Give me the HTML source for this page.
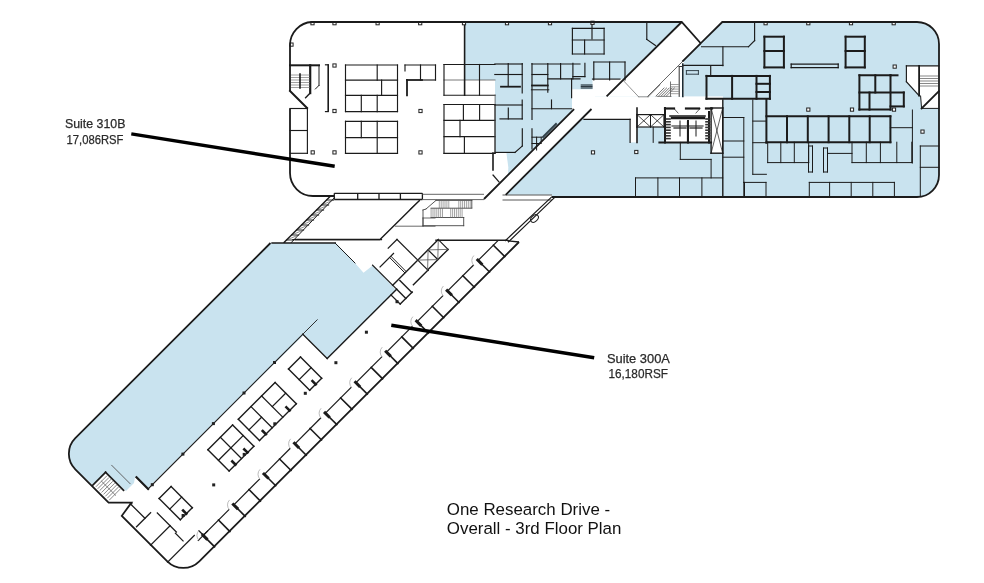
<!DOCTYPE html>
<html><head><meta charset="utf-8"><style>
html,body{margin:0;padding:0;background:#fff;}
svg{display:block;font-family:"Liberation Sans",sans-serif;}
</style></head><body>
<svg width="984" height="583" viewBox="0 0 984 583">
<rect width="984" height="583" fill="#fff"/>
<path fill="#c9e3ef" d="M465,22 H681.7 L700.7,43.3 L722.3,22 H917 A22,22 0 0 1 939,44 V175 A22,22 0 0 1 917,197 H552 V194.8 H495 V80 H465 Z"/>
<path fill="#ffffff" d="M681.7,22 L700.7,43.3 L647.6,96.4 L606.6,96.4 Z"/>
<path fill="#ffffff" d="M592.5,79.1 H624 L606.7,96.4 H592.5 Z"/>
<path fill="#ffffff" d="M684,60 V96.6 H647 Z"/>
<rect fill="#ffffff" x="572" y="89.3" width="23" height="21.3"/>
<rect fill="#ffffff" x="580" y="96.4" width="143" height="11.8"/>
<rect fill="#ffffff" x="584" y="108" width="46" height="11.3"/>
<path fill="#ffffff" d="M582.5,100 L600.5,100 L503.5,197 L485.5,197 Z"/>
<rect fill="#ffffff" x="630" y="108" width="7.5" height="34.4"/>
<rect fill="#ffffff" x="637" y="108" width="28" height="19"/>
<rect fill="#ffffff" x="664" y="108" width="48" height="34.4"/>
<rect fill="#ffffff" x="711" y="108" width="11.7" height="45.2"/>
<path fill="#ffffff" d="M492,152.4 H506.4 L508.3,167.4 L507,197 H492 Z"/>
<path fill="#ffffff" d="M906.4,65.8 H938.8 V108.4 H921.6 L920.6,96 L906.4,81.7 Z"/>
<path fill="#c9e3ef" d="M270.5,243 H336 L355,263 L363.5,272.7 L372.7,265.6 L396,290 L327.7,358.4 L303.6,335 L147,489 L135,477 L134,483 L126,491 L105.6,472.3 L92.8,485.1 L75.3,469.3 A22,22 0 0 1 75.3,438.2 Z"/>
<g stroke-linecap="square">
<line x1="290.0" y1="65.3" x2="319.0" y2="65.3" stroke="#1b1b1b" stroke-width="2.0"/>
<line x1="319.0" y1="65.3" x2="319.0" y2="85.4" stroke="#1b1b1b" stroke-width="1.0"/>
<line x1="319.0" y1="85.4" x2="315.4" y2="89.0" stroke="#1b1b1b" stroke-width="1.0"/>
<line x1="310.2" y1="65.3" x2="310.2" y2="93.1" stroke="#1b1b1b" stroke-width="2.2"/>
<line x1="310.2" y1="93.1" x2="305.6" y2="97.7" stroke="#1b1b1b" stroke-width="1.4"/>
<line x1="290.0" y1="91.0" x2="307.1" y2="108.0" stroke="#1b1b1b" stroke-width="2.0"/>
<line x1="291.5" y1="75.0" x2="309.0" y2="75.0" stroke="#888" stroke-width="0.8"/>
<line x1="291.5" y1="77.5" x2="309.0" y2="77.5" stroke="#888" stroke-width="0.8"/>
<line x1="291.5" y1="80.0" x2="309.0" y2="80.0" stroke="#888" stroke-width="0.8"/>
<line x1="291.5" y1="82.5" x2="309.0" y2="82.5" stroke="#888" stroke-width="0.8"/>
<line x1="291.5" y1="85.0" x2="309.0" y2="85.0" stroke="#888" stroke-width="0.8"/>
<line x1="291.5" y1="87.5" x2="309.0" y2="87.5" stroke="#888" stroke-width="0.8"/>
<line x1="300.0" y1="74.0" x2="300.0" y2="88.0" stroke="#1b1b1b" stroke-width="1.6"/>
<line x1="325.5" y1="64.8" x2="328.2" y2="64.8" stroke="#1b1b1b" stroke-width="1.2"/>
<line x1="325.5" y1="111.6" x2="328.2" y2="111.6" stroke="#1b1b1b" stroke-width="1.2"/>
<line x1="290.0" y1="108.5" x2="307.1" y2="108.5" stroke="#1b1b1b" stroke-width="1.15"/>
<line x1="307.4" y1="108.1" x2="307.4" y2="153.3" stroke="#1b1b1b" stroke-width="1.15"/>
<line x1="290.0" y1="130.5" x2="307.4" y2="130.5" stroke="#1b1b1b" stroke-width="1.15"/>
<line x1="290.0" y1="153.3" x2="307.4" y2="153.3" stroke="#1b1b1b" stroke-width="1.15"/>
<line x1="328.2" y1="65.0" x2="328.2" y2="111.0" stroke="#1b1b1b" stroke-width="1.6"/>
<line x1="345.5" y1="65.0" x2="397.5" y2="65.0" stroke="#1b1b1b" stroke-width="1.15"/>
<line x1="345.5" y1="111.6" x2="397.5" y2="111.6" stroke="#1b1b1b" stroke-width="1.15"/>
<line x1="345.5" y1="65.0" x2="345.5" y2="111.6" stroke="#1b1b1b" stroke-width="1.15"/>
<line x1="397.5" y1="65.0" x2="397.5" y2="111.6" stroke="#1b1b1b" stroke-width="1.15"/>
<line x1="345.5" y1="80.1" x2="397.5" y2="80.1" stroke="#1b1b1b" stroke-width="1.15"/>
<line x1="345.5" y1="95.4" x2="397.5" y2="95.4" stroke="#1b1b1b" stroke-width="1.15"/>
<line x1="377.2" y1="65.0" x2="377.2" y2="80.1" stroke="#1b1b1b" stroke-width="1.15"/>
<line x1="381.6" y1="80.1" x2="381.6" y2="95.4" stroke="#1b1b1b" stroke-width="1.15"/>
<line x1="361.3" y1="95.4" x2="361.3" y2="111.6" stroke="#1b1b1b" stroke-width="1.15"/>
<line x1="377.2" y1="95.4" x2="377.2" y2="111.6" stroke="#1b1b1b" stroke-width="1.15"/>
<line x1="345.5" y1="121.3" x2="397.5" y2="121.3" stroke="#1b1b1b" stroke-width="1.15"/>
<line x1="345.5" y1="153.3" x2="397.5" y2="153.3" stroke="#1b1b1b" stroke-width="1.15"/>
<line x1="345.5" y1="121.3" x2="345.5" y2="153.3" stroke="#1b1b1b" stroke-width="1.15"/>
<line x1="397.5" y1="121.3" x2="397.5" y2="153.3" stroke="#1b1b1b" stroke-width="1.15"/>
<line x1="345.5" y1="137.6" x2="397.5" y2="137.6" stroke="#1b1b1b" stroke-width="1.15"/>
<line x1="361.3" y1="121.3" x2="361.3" y2="137.6" stroke="#1b1b1b" stroke-width="1.15"/>
<line x1="377.2" y1="121.3" x2="377.2" y2="153.3" stroke="#1b1b1b" stroke-width="1.15"/>
<line x1="405.0" y1="65.0" x2="435.5" y2="65.0" stroke="#1b1b1b" stroke-width="1.15"/>
<line x1="420.5" y1="65.0" x2="420.5" y2="80.0" stroke="#1b1b1b" stroke-width="1.15"/>
<line x1="435.5" y1="65.0" x2="435.5" y2="80.0" stroke="#1b1b1b" stroke-width="1.15"/>
<line x1="405.0" y1="65.0" x2="405.0" y2="71.0" stroke="#1b1b1b" stroke-width="1.15"/>
<line x1="420.5" y1="80.0" x2="435.5" y2="80.0" stroke="#1b1b1b" stroke-width="1.15"/>
<line x1="407.0" y1="80.0" x2="407.0" y2="95.4" stroke="#1b1b1b" stroke-width="1.8"/>
<line x1="407.0" y1="80.0" x2="422.0" y2="80.0" stroke="#1b1b1b" stroke-width="1.8"/>
<line x1="444.0" y1="64.5" x2="495.0" y2="64.5" stroke="#1b1b1b" stroke-width="1.15"/>
<line x1="444.0" y1="80.0" x2="495.0" y2="80.0" stroke="#555" stroke-width="0.8"/>
<line x1="444.0" y1="95.2" x2="495.0" y2="95.2" stroke="#1b1b1b" stroke-width="1.15"/>
<line x1="444.0" y1="64.5" x2="444.0" y2="95.2" stroke="#1b1b1b" stroke-width="1.15"/>
<line x1="464.6" y1="22.0" x2="464.6" y2="95.2" stroke="#1b1b1b" stroke-width="1.6"/>
<line x1="479.5" y1="64.5" x2="479.5" y2="95.2" stroke="#1b1b1b" stroke-width="1.15"/>
<line x1="444.0" y1="104.5" x2="495.0" y2="104.5" stroke="#1b1b1b" stroke-width="1.15"/>
<line x1="444.0" y1="153.3" x2="495.0" y2="153.3" stroke="#1b1b1b" stroke-width="1.15"/>
<line x1="444.0" y1="104.5" x2="444.0" y2="153.3" stroke="#1b1b1b" stroke-width="1.15"/>
<line x1="495.0" y1="104.5" x2="495.0" y2="153.3" stroke="#1b1b1b" stroke-width="1.15"/>
<line x1="444.0" y1="120.3" x2="495.0" y2="120.3" stroke="#1b1b1b" stroke-width="1.15"/>
<line x1="444.0" y1="136.6" x2="495.0" y2="136.6" stroke="#1b1b1b" stroke-width="1.15"/>
<line x1="463.4" y1="104.5" x2="463.4" y2="120.3" stroke="#1b1b1b" stroke-width="1.15"/>
<line x1="479.6" y1="104.5" x2="479.6" y2="120.3" stroke="#1b1b1b" stroke-width="1.15"/>
<line x1="460.0" y1="120.3" x2="460.0" y2="136.6" stroke="#1b1b1b" stroke-width="1.15"/>
<line x1="464.4" y1="136.6" x2="464.4" y2="153.3" stroke="#1b1b1b" stroke-width="1.15"/>
<line x1="495.1" y1="95.0" x2="495.1" y2="152.4" stroke="#555" stroke-width="0.8"/>
<line x1="495.0" y1="152.4" x2="515.0" y2="152.4" stroke="#1b1b1b" stroke-width="1.15"/>
<line x1="515.0" y1="152.4" x2="522.3" y2="146.0" stroke="#1b1b1b" stroke-width="1.15"/>
<line x1="522.3" y1="128.8" x2="522.3" y2="146.0" stroke="#1b1b1b" stroke-width="1.15"/>
<line x1="493.0" y1="153.0" x2="493.0" y2="170.0" stroke="#1b1b1b" stroke-width="1.6"/>
<line x1="493.0" y1="175.0" x2="499.0" y2="182.0" stroke="#1b1b1b" stroke-width="1.2"/>
<line x1="494.8" y1="64.0" x2="522.2" y2="64.0" stroke="#1b1b1b" stroke-width="1.15"/>
<line x1="494.8" y1="74.5" x2="522.2" y2="74.5" stroke="#1b1b1b" stroke-width="1.15"/>
<line x1="508.2" y1="63.5" x2="508.2" y2="86.1" stroke="#1b1b1b" stroke-width="1.15"/>
<line x1="501.0" y1="86.7" x2="520.0" y2="86.7" stroke="#1b1b1b" stroke-width="1.8"/>
<line x1="522.2" y1="63.5" x2="522.2" y2="92.8" stroke="#1b1b1b" stroke-width="1.15"/>
<line x1="522.2" y1="100.0" x2="522.2" y2="119.0" stroke="#1b1b1b" stroke-width="1.15"/>
<line x1="494.8" y1="105.0" x2="522.2" y2="105.0" stroke="#1b1b1b" stroke-width="1.15"/>
<line x1="500.0" y1="118.9" x2="522.3" y2="118.9" stroke="#1b1b1b" stroke-width="1.15"/>
<line x1="508.3" y1="108.0" x2="508.3" y2="118.9" stroke="#1b1b1b" stroke-width="1.15"/>
<line x1="532.0" y1="64.0" x2="580.0" y2="64.0" stroke="#1b1b1b" stroke-width="1.15"/>
<line x1="532.0" y1="63.5" x2="532.0" y2="119.5" stroke="#1b1b1b" stroke-width="1.15"/>
<line x1="532.0" y1="128.8" x2="532.0" y2="148.8" stroke="#1b1b1b" stroke-width="1.15"/>
<line x1="532.0" y1="74.5" x2="547.8" y2="74.5" stroke="#1b1b1b" stroke-width="1.15"/>
<line x1="547.8" y1="63.5" x2="547.8" y2="92.2" stroke="#1b1b1b" stroke-width="1.15"/>
<line x1="560.6" y1="63.5" x2="560.6" y2="78.8" stroke="#1b1b1b" stroke-width="1.15"/>
<line x1="547.8" y1="78.8" x2="580.0" y2="78.8" stroke="#1b1b1b" stroke-width="1.15"/>
<line x1="532.0" y1="85.5" x2="547.8" y2="85.5" stroke="#1b1b1b" stroke-width="1.8"/>
<line x1="571.6" y1="78.8" x2="571.6" y2="97.7" stroke="#1b1b1b" stroke-width="1.15"/>
<line x1="532.0" y1="108.7" x2="571.7" y2="108.7" stroke="#1b1b1b" stroke-width="1.15"/>
<line x1="551.5" y1="100.0" x2="551.5" y2="108.7" stroke="#1b1b1b" stroke-width="1.15"/>
<line x1="593.8" y1="62.0" x2="625.0" y2="62.0" stroke="#1b1b1b" stroke-width="1.15"/>
<line x1="593.8" y1="62.0" x2="593.8" y2="80.0" stroke="#1b1b1b" stroke-width="1.15"/>
<line x1="609.6" y1="62.0" x2="609.6" y2="80.0" stroke="#1b1b1b" stroke-width="1.15"/>
<line x1="625.0" y1="62.0" x2="625.0" y2="80.0" stroke="#1b1b1b" stroke-width="1.15"/>
<line x1="592.5" y1="79.1" x2="620.0" y2="79.1" stroke="#1b1b1b" stroke-width="1.15"/>
<line x1="572.4" y1="28.4" x2="604.1" y2="28.4" stroke="#1b1b1b" stroke-width="1.15"/>
<line x1="572.4" y1="54.0" x2="604.1" y2="54.0" stroke="#1b1b1b" stroke-width="1.15"/>
<line x1="572.4" y1="28.4" x2="572.4" y2="54.0" stroke="#1b1b1b" stroke-width="1.15"/>
<line x1="604.1" y1="28.4" x2="604.1" y2="54.0" stroke="#1b1b1b" stroke-width="1.15"/>
<line x1="592.0" y1="22.0" x2="592.0" y2="38.8" stroke="#1b1b1b" stroke-width="1.15"/>
<line x1="572.4" y1="40.0" x2="604.1" y2="40.0" stroke="#1b1b1b" stroke-width="1.15"/>
<line x1="584.6" y1="40.0" x2="584.6" y2="54.0" stroke="#1b1b1b" stroke-width="1.15"/>
<line x1="646.8" y1="22.0" x2="646.8" y2="39.4" stroke="#1b1b1b" stroke-width="1.15"/>
<line x1="646.8" y1="39.4" x2="655.4" y2="45.5" stroke="#1b1b1b" stroke-width="1.15"/>
<line x1="754.6" y1="22.0" x2="754.6" y2="40.6" stroke="#1b1b1b" stroke-width="1.15"/>
<line x1="754.6" y1="40.6" x2="748.5" y2="46.7" stroke="#1b1b1b" stroke-width="1.15"/>
<line x1="701.6" y1="46.7" x2="748.5" y2="46.7" stroke="#1b1b1b" stroke-width="1.15"/>
<line x1="722.9" y1="46.7" x2="722.9" y2="65.6" stroke="#1b1b1b" stroke-width="1.15"/>
<line x1="682.8" y1="65.4" x2="722.9" y2="65.4" stroke="#1b1b1b" stroke-width="1.15"/>
<line x1="710.7" y1="65.6" x2="710.7" y2="75.9" stroke="#1b1b1b" stroke-width="1.15"/>
<line x1="764.4" y1="36.7" x2="783.9" y2="36.7" stroke="#1b1b1b" stroke-width="2.0"/>
<line x1="764.4" y1="67.4" x2="783.9" y2="67.4" stroke="#1b1b1b" stroke-width="2.0"/>
<line x1="764.4" y1="36.7" x2="764.4" y2="67.4" stroke="#1b1b1b" stroke-width="2.0"/>
<line x1="783.9" y1="36.7" x2="783.9" y2="67.4" stroke="#1b1b1b" stroke-width="2.0"/>
<line x1="764.4" y1="51.0" x2="783.9" y2="51.0" stroke="#1b1b1b" stroke-width="2.0"/>
<line x1="845.6" y1="36.7" x2="864.8" y2="36.7" stroke="#1b1b1b" stroke-width="2.0"/>
<line x1="845.6" y1="67.4" x2="864.8" y2="67.4" stroke="#1b1b1b" stroke-width="2.0"/>
<line x1="845.6" y1="36.7" x2="845.6" y2="67.4" stroke="#1b1b1b" stroke-width="2.0"/>
<line x1="864.8" y1="36.7" x2="864.8" y2="67.4" stroke="#1b1b1b" stroke-width="2.0"/>
<line x1="845.6" y1="51.0" x2="864.8" y2="51.0" stroke="#1b1b1b" stroke-width="2.0"/>
<line x1="791.2" y1="64.2" x2="838.2" y2="64.2" stroke="#1b1b1b" stroke-width="1.2"/>
<line x1="791.2" y1="67.6" x2="838.2" y2="67.6" stroke="#1b1b1b" stroke-width="1.2"/>
<line x1="791.2" y1="64.2" x2="791.2" y2="67.6" stroke="#1b1b1b" stroke-width="1.2"/>
<line x1="838.2" y1="64.2" x2="838.2" y2="67.6" stroke="#1b1b1b" stroke-width="1.2"/>
<line x1="706.5" y1="75.9" x2="769.9" y2="75.9" stroke="#1b1b1b" stroke-width="2.0"/>
<line x1="706.5" y1="98.8" x2="769.9" y2="98.8" stroke="#1b1b1b" stroke-width="2.0"/>
<line x1="706.5" y1="75.9" x2="706.5" y2="98.8" stroke="#1b1b1b" stroke-width="2.0"/>
<line x1="769.9" y1="75.9" x2="769.9" y2="98.8" stroke="#1b1b1b" stroke-width="2.0"/>
<line x1="732.1" y1="75.9" x2="732.1" y2="98.8" stroke="#1b1b1b" stroke-width="2.0"/>
<line x1="756.5" y1="75.9" x2="756.5" y2="98.8" stroke="#1b1b1b" stroke-width="2.0"/>
<line x1="756.5" y1="83.8" x2="769.9" y2="83.8" stroke="#1b1b1b" stroke-width="2.0"/>
<line x1="756.5" y1="92.0" x2="769.9" y2="92.0" stroke="#1b1b1b" stroke-width="2.0"/>
<line x1="859.4" y1="75.3" x2="890.5" y2="75.3" stroke="#1b1b1b" stroke-width="2.0"/>
<line x1="859.4" y1="109.6" x2="890.5" y2="109.6" stroke="#1b1b1b" stroke-width="2.0"/>
<line x1="859.4" y1="75.3" x2="859.4" y2="109.6" stroke="#1b1b1b" stroke-width="2.0"/>
<line x1="890.5" y1="75.3" x2="890.5" y2="109.6" stroke="#1b1b1b" stroke-width="2.0"/>
<line x1="859.4" y1="92.5" x2="903.8" y2="92.5" stroke="#1b1b1b" stroke-width="2.0"/>
<line x1="875.3" y1="75.3" x2="875.3" y2="92.5" stroke="#1b1b1b" stroke-width="2.0"/>
<line x1="869.5" y1="92.5" x2="869.5" y2="109.6" stroke="#1b1b1b" stroke-width="2.0"/>
<line x1="890.5" y1="75.3" x2="897.5" y2="75.3" stroke="#1b1b1b" stroke-width="2.0"/>
<line x1="903.8" y1="92.5" x2="903.8" y2="106.4" stroke="#1b1b1b" stroke-width="2.0"/>
<line x1="890.5" y1="106.4" x2="903.8" y2="106.4" stroke="#1b1b1b" stroke-width="2.0"/>
<line x1="906.4" y1="65.8" x2="938.8" y2="65.8" stroke="#1b1b1b" stroke-width="1.15"/>
<line x1="906.4" y1="65.8" x2="906.4" y2="81.7" stroke="#1b1b1b" stroke-width="1.15"/>
<line x1="906.4" y1="81.7" x2="919.1" y2="95.7" stroke="#1b1b1b" stroke-width="1.15"/>
<line x1="919.1" y1="65.8" x2="919.1" y2="95.7" stroke="#1b1b1b" stroke-width="1.8"/>
<line x1="921.6" y1="108.4" x2="938.8" y2="91.2" stroke="#1b1b1b" stroke-width="1.8"/>
<line x1="921.6" y1="108.4" x2="938.8" y2="108.4" stroke="#1b1b1b" stroke-width="1.0"/>
<line x1="920.6" y1="96.0" x2="921.6" y2="108.4" stroke="#1b1b1b" stroke-width="1.0"/>
<line x1="920.5" y1="76.0" x2="937.5" y2="76.0" stroke="#555" stroke-width="0.7"/>
<line x1="920.5" y1="78.5" x2="937.5" y2="78.5" stroke="#555" stroke-width="0.7"/>
<line x1="920.5" y1="81.0" x2="937.5" y2="81.0" stroke="#555" stroke-width="0.7"/>
<line x1="920.5" y1="83.5" x2="937.5" y2="83.5" stroke="#555" stroke-width="0.7"/>
<line x1="920.5" y1="86.0" x2="937.5" y2="86.0" stroke="#555" stroke-width="0.7"/>
<line x1="630.1" y1="119.3" x2="630.1" y2="142.4" stroke="#1b1b1b" stroke-width="1.2"/>
<line x1="637.0" y1="108.0" x2="637.0" y2="142.4" stroke="#1b1b1b" stroke-width="1.6"/>
<line x1="584.0" y1="119.3" x2="630.1" y2="119.3" stroke="#1b1b1b" stroke-width="1.2"/>
<line x1="637.0" y1="114.6" x2="664.0" y2="114.6" stroke="#1b1b1b" stroke-width="1.2"/>
<line x1="637.0" y1="127.0" x2="664.0" y2="127.0" stroke="#1b1b1b" stroke-width="1.2"/>
<line x1="637.0" y1="114.6" x2="637.0" y2="127.0" stroke="#1b1b1b" stroke-width="1.2"/>
<line x1="664.0" y1="114.6" x2="664.0" y2="127.0" stroke="#1b1b1b" stroke-width="1.2"/>
<line x1="637.0" y1="114.6" x2="650.5" y2="127.0" stroke="#1b1b1b" stroke-width="0.8"/>
<line x1="650.5" y1="114.6" x2="637.0" y2="127.0" stroke="#1b1b1b" stroke-width="0.8"/>
<line x1="650.5" y1="114.6" x2="664.0" y2="127.0" stroke="#1b1b1b" stroke-width="0.8"/>
<line x1="664.0" y1="114.6" x2="650.5" y2="127.0" stroke="#1b1b1b" stroke-width="0.8"/>
<line x1="650.5" y1="114.6" x2="650.5" y2="127.0" stroke="#1b1b1b" stroke-width="1.0"/>
<line x1="653.2" y1="127.0" x2="653.2" y2="142.4" stroke="#1b1b1b" stroke-width="1.0"/>
<line x1="659.4" y1="142.4" x2="711.1" y2="142.4" stroke="#1b1b1b" stroke-width="2.0"/>
<line x1="665.0" y1="108.0" x2="665.0" y2="142.4" stroke="#1b1b1b" stroke-width="2.0"/>
<line x1="709.0" y1="112.0" x2="709.0" y2="142.4" stroke="#1b1b1b" stroke-width="2.0"/>
<line x1="687.7" y1="122.0" x2="687.7" y2="142.0" stroke="#1b1b1b" stroke-width="1.6"/>
<line x1="670.0" y1="116.0" x2="705.0" y2="116.0" stroke="#1b1b1b" stroke-width="1.6"/>
<line x1="672.0" y1="126.0" x2="703.0" y2="126.0" stroke="#1b1b1b" stroke-width="1.2"/>
<line x1="711.1" y1="108.0" x2="722.7" y2="108.0" stroke="#1b1b1b" stroke-width="1.4"/>
<line x1="711.1" y1="153.2" x2="722.7" y2="153.2" stroke="#1b1b1b" stroke-width="1.4"/>
<line x1="711.1" y1="108.0" x2="711.1" y2="153.2" stroke="#1b1b1b" stroke-width="1.4"/>
<line x1="722.7" y1="108.0" x2="722.7" y2="153.2" stroke="#1b1b1b" stroke-width="1.4"/>
<line x1="711.1" y1="108.0" x2="722.7" y2="153.2" stroke="#1b1b1b" stroke-width="0.7"/>
<line x1="722.7" y1="108.0" x2="711.1" y2="153.2" stroke="#1b1b1b" stroke-width="0.7"/>
<line x1="722.8" y1="100.0" x2="722.8" y2="196.5" stroke="#1b1b1b" stroke-width="1.4"/>
<line x1="680.3" y1="142.4" x2="680.3" y2="159.4" stroke="#1b1b1b" stroke-width="1.0"/>
<line x1="680.3" y1="159.4" x2="711.1" y2="159.4" stroke="#1b1b1b" stroke-width="1.0"/>
<line x1="711.1" y1="159.4" x2="711.1" y2="177.9" stroke="#1b1b1b" stroke-width="1.0"/>
<line x1="635.5" y1="177.9" x2="722.7" y2="177.9" stroke="#1b1b1b" stroke-width="1.0"/>
<line x1="635.5" y1="177.9" x2="635.5" y2="196.5" stroke="#1b1b1b" stroke-width="1.0"/>
<line x1="657.9" y1="177.9" x2="657.9" y2="196.5" stroke="#1b1b1b" stroke-width="1.0"/>
<line x1="679.5" y1="177.9" x2="679.5" y2="196.5" stroke="#1b1b1b" stroke-width="1.0"/>
<line x1="701.9" y1="177.9" x2="701.9" y2="196.5" stroke="#1b1b1b" stroke-width="1.0"/>
<line x1="723.1" y1="117.5" x2="743.8" y2="117.5" stroke="#1b1b1b" stroke-width="1.0"/>
<line x1="723.1" y1="141.0" x2="743.8" y2="141.0" stroke="#1b1b1b" stroke-width="1.0"/>
<line x1="723.1" y1="157.2" x2="743.8" y2="157.2" stroke="#1b1b1b" stroke-width="1.0"/>
<line x1="743.8" y1="117.5" x2="743.8" y2="182.4" stroke="#1b1b1b" stroke-width="1.0"/>
<line x1="752.8" y1="100.0" x2="752.8" y2="174.3" stroke="#1b1b1b" stroke-width="1.0"/>
<line x1="752.8" y1="121.1" x2="766.4" y2="121.1" stroke="#1b1b1b" stroke-width="1.0"/>
<line x1="752.8" y1="142.7" x2="766.4" y2="142.7" stroke="#1b1b1b" stroke-width="1.0"/>
<line x1="752.8" y1="174.3" x2="766.4" y2="174.3" stroke="#1b1b1b" stroke-width="1.0"/>
<line x1="766.4" y1="99.5" x2="766.4" y2="142.7" stroke="#1b1b1b" stroke-width="2.0"/>
<line x1="766.4" y1="116.3" x2="890.4" y2="116.3" stroke="#1b1b1b" stroke-width="2.0"/>
<line x1="766.4" y1="142.2" x2="890.4" y2="142.2" stroke="#1b1b1b" stroke-width="2.0"/>
<line x1="787.0" y1="116.3" x2="787.0" y2="142.2" stroke="#1b1b1b" stroke-width="2.0"/>
<line x1="807.8" y1="116.3" x2="807.8" y2="142.2" stroke="#1b1b1b" stroke-width="2.0"/>
<line x1="828.6" y1="116.3" x2="828.6" y2="142.2" stroke="#1b1b1b" stroke-width="2.0"/>
<line x1="849.3" y1="116.3" x2="849.3" y2="142.2" stroke="#1b1b1b" stroke-width="2.0"/>
<line x1="869.7" y1="116.3" x2="869.7" y2="142.2" stroke="#1b1b1b" stroke-width="2.0"/>
<line x1="890.4" y1="116.3" x2="890.4" y2="142.2" stroke="#1b1b1b" stroke-width="2.0"/>
<line x1="767.7" y1="162.6" x2="808.7" y2="162.6" stroke="#1b1b1b" stroke-width="1.0"/>
<line x1="852.0" y1="162.6" x2="911.8" y2="162.6" stroke="#1b1b1b" stroke-width="1.0"/>
<line x1="767.7" y1="142.2" x2="767.7" y2="162.6" stroke="#1b1b1b" stroke-width="1.0"/>
<line x1="780.8" y1="142.2" x2="780.8" y2="162.6" stroke="#1b1b1b" stroke-width="1.0"/>
<line x1="794.3" y1="142.2" x2="794.3" y2="162.6" stroke="#1b1b1b" stroke-width="1.0"/>
<line x1="808.7" y1="142.2" x2="808.7" y2="162.6" stroke="#1b1b1b" stroke-width="1.0"/>
<line x1="852.0" y1="142.2" x2="852.0" y2="162.6" stroke="#1b1b1b" stroke-width="1.0"/>
<line x1="866.3" y1="142.2" x2="866.3" y2="162.6" stroke="#1b1b1b" stroke-width="1.0"/>
<line x1="880.4" y1="142.2" x2="880.4" y2="162.6" stroke="#1b1b1b" stroke-width="1.0"/>
<line x1="896.8" y1="142.2" x2="896.8" y2="162.6" stroke="#1b1b1b" stroke-width="1.0"/>
<line x1="911.8" y1="142.2" x2="911.8" y2="162.6" stroke="#1b1b1b" stroke-width="1.0"/>
<line x1="808.5" y1="146.0" x2="812.5" y2="146.0" stroke="#1b1b1b" stroke-width="1.0"/>
<line x1="808.5" y1="172.0" x2="812.5" y2="172.0" stroke="#1b1b1b" stroke-width="1.0"/>
<line x1="808.5" y1="146.0" x2="808.5" y2="172.0" stroke="#1b1b1b" stroke-width="1.0"/>
<line x1="812.5" y1="146.0" x2="812.5" y2="172.0" stroke="#1b1b1b" stroke-width="1.0"/>
<line x1="823.5" y1="148.0" x2="827.5" y2="148.0" stroke="#1b1b1b" stroke-width="1.0"/>
<line x1="823.5" y1="172.0" x2="827.5" y2="172.0" stroke="#1b1b1b" stroke-width="1.0"/>
<line x1="823.5" y1="148.0" x2="823.5" y2="172.0" stroke="#1b1b1b" stroke-width="1.0"/>
<line x1="827.5" y1="148.0" x2="827.5" y2="172.0" stroke="#1b1b1b" stroke-width="1.0"/>
<line x1="828.0" y1="153.4" x2="852.0" y2="153.4" stroke="#1b1b1b" stroke-width="1.0"/>
<line x1="912.4" y1="110.0" x2="912.4" y2="163.0" stroke="#1b1b1b" stroke-width="1.0"/>
<line x1="890.4" y1="127.7" x2="912.4" y2="127.7" stroke="#1b1b1b" stroke-width="1.0"/>
<line x1="920.3" y1="146.0" x2="920.3" y2="196.5" stroke="#1b1b1b" stroke-width="1.0"/>
<line x1="920.3" y1="146.0" x2="939.0" y2="146.0" stroke="#1b1b1b" stroke-width="1.0"/>
<line x1="920.3" y1="167.3" x2="939.0" y2="167.3" stroke="#1b1b1b" stroke-width="1.0"/>
<line x1="743.8" y1="182.4" x2="766.0" y2="182.4" stroke="#1b1b1b" stroke-width="1.0"/>
<line x1="809.3" y1="182.4" x2="894.4" y2="182.4" stroke="#1b1b1b" stroke-width="1.0"/>
<line x1="744.5" y1="182.4" x2="744.5" y2="196.5" stroke="#1b1b1b" stroke-width="1.0"/>
<line x1="766.0" y1="182.4" x2="766.0" y2="196.5" stroke="#1b1b1b" stroke-width="1.0"/>
<line x1="809.3" y1="182.4" x2="809.3" y2="196.5" stroke="#1b1b1b" stroke-width="1.0"/>
<line x1="829.6" y1="182.4" x2="829.6" y2="196.5" stroke="#1b1b1b" stroke-width="1.0"/>
<line x1="851.2" y1="182.4" x2="851.2" y2="196.5" stroke="#1b1b1b" stroke-width="1.0"/>
<line x1="872.8" y1="182.4" x2="872.8" y2="196.5" stroke="#1b1b1b" stroke-width="1.0"/>
<line x1="894.4" y1="182.4" x2="894.4" y2="196.5" stroke="#1b1b1b" stroke-width="1.0"/>
<line x1="743.8" y1="182.4" x2="743.8" y2="196.5" stroke="#1b1b1b" stroke-width="1.0"/>
<line x1="572.9" y1="63.4" x2="572.9" y2="78.8" stroke="#1b1b1b" stroke-width="1.15"/>
<line x1="584.9" y1="63.4" x2="584.9" y2="76.6" stroke="#1b1b1b" stroke-width="1.15"/>
<line x1="572.9" y1="76.6" x2="584.9" y2="76.6" stroke="#1b1b1b" stroke-width="1.15"/>
<line x1="531.4" y1="89.8" x2="548.8" y2="89.8" stroke="#1b1b1b" stroke-width="1.0"/>
<line x1="581.3" y1="85.0" x2="592.0" y2="85.0" stroke="#2d3a42" stroke-width="1.2"/>
<line x1="581.3" y1="86.5" x2="592.0" y2="86.5" stroke="#2d3a42" stroke-width="1.2"/>
<line x1="581.3" y1="88.0" x2="592.0" y2="88.0" stroke="#2d3a42" stroke-width="1.2"/>
<line x1="672.0" y1="118.0" x2="704.0" y2="118.0" stroke="#1b1b1b" stroke-width="2.4"/>
<line x1="688.0" y1="121.0" x2="688.0" y2="142.4" stroke="#1b1b1b" stroke-width="2.0"/>
<line x1="674.0" y1="128.0" x2="686.0" y2="128.0" stroke="#1b1b1b" stroke-width="1.2"/>
<line x1="690.0" y1="128.0" x2="702.0" y2="128.0" stroke="#1b1b1b" stroke-width="1.2"/>
<line x1="680.0" y1="121.0" x2="680.0" y2="136.0" stroke="#1b1b1b" stroke-width="1.0"/>
<line x1="696.0" y1="121.0" x2="696.0" y2="136.0" stroke="#1b1b1b" stroke-width="1.0"/>
<line x1="666.5" y1="119.0" x2="670.0" y2="119.0" stroke="#333" stroke-width="1.6"/>
<line x1="706.0" y1="119.0" x2="709.5" y2="119.0" stroke="#333" stroke-width="1.6"/>
<line x1="666.5" y1="121.8" x2="670.0" y2="121.8" stroke="#333" stroke-width="1.6"/>
<line x1="706.0" y1="121.8" x2="709.5" y2="121.8" stroke="#333" stroke-width="1.6"/>
<line x1="666.5" y1="124.6" x2="670.0" y2="124.6" stroke="#333" stroke-width="1.6"/>
<line x1="706.0" y1="124.6" x2="709.5" y2="124.6" stroke="#333" stroke-width="1.6"/>
<line x1="666.5" y1="127.4" x2="670.0" y2="127.4" stroke="#333" stroke-width="1.6"/>
<line x1="706.0" y1="127.4" x2="709.5" y2="127.4" stroke="#333" stroke-width="1.6"/>
<line x1="666.5" y1="130.2" x2="670.0" y2="130.2" stroke="#333" stroke-width="1.6"/>
<line x1="706.0" y1="130.2" x2="709.5" y2="130.2" stroke="#333" stroke-width="1.6"/>
<line x1="666.5" y1="133.0" x2="670.0" y2="133.0" stroke="#333" stroke-width="1.6"/>
<line x1="706.0" y1="133.0" x2="709.5" y2="133.0" stroke="#333" stroke-width="1.6"/>
<line x1="666.5" y1="135.8" x2="670.0" y2="135.8" stroke="#333" stroke-width="1.6"/>
<line x1="706.0" y1="135.8" x2="709.5" y2="135.8" stroke="#333" stroke-width="1.6"/>
<line x1="666.5" y1="138.6" x2="670.0" y2="138.6" stroke="#333" stroke-width="1.6"/>
<line x1="706.0" y1="138.6" x2="709.5" y2="138.6" stroke="#333" stroke-width="1.6"/>
<line x1="674.0" y1="108.5" x2="678.0" y2="113.0" stroke="#666" stroke-width="1.0"/>
<line x1="700.0" y1="108.5" x2="696.0" y2="113.0" stroke="#666" stroke-width="1.0"/>
<line x1="665.0" y1="108.5" x2="674.0" y2="108.5" stroke="#1b1b1b" stroke-width="2.2"/>
<line x1="686.0" y1="108.5" x2="699.0" y2="108.5" stroke="#1b1b1b" stroke-width="2.2"/>
<line x1="706.0" y1="108.5" x2="712.0" y2="108.5" stroke="#1b1b1b" stroke-width="2.2"/>
<line x1="682.3" y1="61.7" x2="647.6" y2="96.4" stroke="#555" stroke-width="0.9"/>
<line x1="686.4" y1="70.6" x2="698.4" y2="70.6" stroke="#34424a" stroke-width="1.0"/>
<line x1="686.4" y1="74.2" x2="698.4" y2="74.2" stroke="#34424a" stroke-width="1.0"/>
<line x1="686.4" y1="70.6" x2="686.4" y2="74.2" stroke="#34424a" stroke-width="1.0"/>
<line x1="698.4" y1="70.6" x2="698.4" y2="74.2" stroke="#34424a" stroke-width="1.0"/>
<line x1="207.5" y1="531.1" x2="198.3" y2="540.4" stroke="#1b1b1b" stroke-width="1.2"/>
<line x1="203.2" y1="535.4" x2="228.8" y2="509.8" stroke="#1b1b1b" stroke-width="1.2"/>
<line x1="233.8" y1="504.9" x2="259.4" y2="479.3" stroke="#1b1b1b" stroke-width="1.2"/>
<line x1="264.3" y1="474.3" x2="289.9" y2="448.7" stroke="#1b1b1b" stroke-width="1.2"/>
<line x1="294.9" y1="443.8" x2="320.5" y2="418.2" stroke="#1b1b1b" stroke-width="1.2"/>
<line x1="325.4" y1="413.2" x2="351.0" y2="387.6" stroke="#1b1b1b" stroke-width="1.2"/>
<line x1="356.0" y1="382.7" x2="381.6" y2="357.1" stroke="#1b1b1b" stroke-width="1.2"/>
<line x1="386.5" y1="352.1" x2="412.1" y2="326.5" stroke="#1b1b1b" stroke-width="1.2"/>
<line x1="417.1" y1="321.6" x2="442.6" y2="296.0" stroke="#1b1b1b" stroke-width="1.2"/>
<line x1="447.6" y1="291.0" x2="473.2" y2="265.4" stroke="#1b1b1b" stroke-width="1.2"/>
<line x1="478.1" y1="260.5" x2="497.8" y2="240.8" stroke="#1b1b1b" stroke-width="1.2"/>
<line x1="203.2" y1="535.4" x2="214.6" y2="546.8" stroke="#1b1b1b" stroke-width="1.6"/>
<line x1="202.9" y1="535.1" x2="206.4" y2="538.6" stroke="#1b1b1b" stroke-width="3.0"/>
<line x1="218.5" y1="520.1" x2="229.9" y2="531.5" stroke="#1b1b1b" stroke-width="1.6"/>
<line x1="233.8" y1="504.9" x2="245.2" y2="516.3" stroke="#1b1b1b" stroke-width="1.6"/>
<line x1="233.4" y1="504.5" x2="237.0" y2="508.1" stroke="#1b1b1b" stroke-width="3.0"/>
<line x1="249.0" y1="489.6" x2="260.4" y2="501.0" stroke="#1b1b1b" stroke-width="1.6"/>
<line x1="264.3" y1="474.3" x2="275.7" y2="485.7" stroke="#1b1b1b" stroke-width="1.6"/>
<line x1="264.0" y1="474.0" x2="267.5" y2="477.5" stroke="#1b1b1b" stroke-width="3.0"/>
<line x1="279.6" y1="459.1" x2="291.0" y2="470.4" stroke="#1b1b1b" stroke-width="1.6"/>
<line x1="294.9" y1="443.8" x2="306.2" y2="455.2" stroke="#1b1b1b" stroke-width="1.6"/>
<line x1="294.5" y1="443.4" x2="298.0" y2="447.0" stroke="#1b1b1b" stroke-width="3.0"/>
<line x1="310.1" y1="428.5" x2="321.5" y2="439.9" stroke="#1b1b1b" stroke-width="1.6"/>
<line x1="325.4" y1="413.2" x2="336.8" y2="424.6" stroke="#1b1b1b" stroke-width="1.6"/>
<line x1="325.1" y1="412.9" x2="328.6" y2="416.4" stroke="#1b1b1b" stroke-width="3.0"/>
<line x1="340.7" y1="398.0" x2="352.1" y2="409.3" stroke="#1b1b1b" stroke-width="1.6"/>
<line x1="356.0" y1="382.7" x2="367.3" y2="394.1" stroke="#1b1b1b" stroke-width="1.6"/>
<line x1="355.6" y1="382.3" x2="359.1" y2="385.9" stroke="#1b1b1b" stroke-width="3.0"/>
<line x1="371.2" y1="367.4" x2="382.6" y2="378.8" stroke="#1b1b1b" stroke-width="1.6"/>
<line x1="386.5" y1="352.1" x2="397.9" y2="363.5" stroke="#1b1b1b" stroke-width="1.6"/>
<line x1="386.2" y1="351.8" x2="389.7" y2="355.3" stroke="#1b1b1b" stroke-width="3.0"/>
<line x1="401.8" y1="336.9" x2="413.2" y2="348.3" stroke="#1b1b1b" stroke-width="1.6"/>
<line x1="417.1" y1="321.6" x2="428.4" y2="333.0" stroke="#1b1b1b" stroke-width="1.6"/>
<line x1="416.7" y1="321.2" x2="420.2" y2="324.8" stroke="#1b1b1b" stroke-width="3.0"/>
<line x1="432.3" y1="306.3" x2="443.7" y2="317.7" stroke="#1b1b1b" stroke-width="1.6"/>
<line x1="447.6" y1="291.0" x2="459.0" y2="302.4" stroke="#1b1b1b" stroke-width="1.6"/>
<line x1="447.2" y1="290.7" x2="450.8" y2="294.2" stroke="#1b1b1b" stroke-width="3.0"/>
<line x1="462.9" y1="275.8" x2="474.3" y2="287.2" stroke="#1b1b1b" stroke-width="1.6"/>
<line x1="478.1" y1="260.5" x2="489.5" y2="271.9" stroke="#1b1b1b" stroke-width="1.6"/>
<line x1="477.8" y1="260.1" x2="481.3" y2="263.7" stroke="#1b1b1b" stroke-width="3.0"/>
<line x1="493.4" y1="245.2" x2="504.8" y2="256.6" stroke="#1b1b1b" stroke-width="1.6"/>
<line x1="167.6" y1="562.1" x2="194.3" y2="535.4" stroke="#1b1b1b" stroke-width="1.25"/>
<line x1="198.9" y1="530.8" x2="203.4" y2="535.3" stroke="#1b1b1b" stroke-width="1.25"/>
<line x1="157.3" y1="513.0" x2="176.4" y2="532.1" stroke="#1b1b1b" stroke-width="1.25"/>
<line x1="150.6" y1="545.2" x2="170.1" y2="525.7" stroke="#1b1b1b" stroke-width="1.25"/>
<line x1="131.0" y1="504.4" x2="145.0" y2="518.3" stroke="#1b1b1b" stroke-width="1.25"/>
<line x1="136.5" y1="526.8" x2="150.6" y2="512.7" stroke="#1b1b1b" stroke-width="1.25"/>
<line x1="175.4" y1="533.2" x2="183.1" y2="540.9" stroke="#1b1b1b" stroke-width="1.2"/>
<line x1="131.8" y1="503.6" x2="131.8" y2="503.6" stroke="#1b1b1b" stroke-width="1.2"/>
<line x1="92.4" y1="485.6" x2="105.6" y2="472.3" stroke="#1b1b1b" stroke-width="1.8"/>
<line x1="105.6" y1="472.3" x2="123.5" y2="490.2" stroke="#1b1b1b" stroke-width="1.8"/>
<line x1="96.2" y1="486.5" x2="106.8" y2="475.9" stroke="#555" stroke-width="0.7"/>
<line x1="98.1" y1="488.4" x2="108.7" y2="477.8" stroke="#555" stroke-width="0.7"/>
<line x1="100.0" y1="490.3" x2="110.6" y2="479.7" stroke="#555" stroke-width="0.7"/>
<line x1="101.9" y1="492.2" x2="112.5" y2="481.6" stroke="#555" stroke-width="0.7"/>
<line x1="103.8" y1="494.1" x2="114.4" y2="483.5" stroke="#555" stroke-width="0.7"/>
<line x1="105.7" y1="496.0" x2="116.3" y2="485.4" stroke="#555" stroke-width="0.7"/>
<line x1="107.6" y1="497.9" x2="118.2" y2="487.3" stroke="#555" stroke-width="0.7"/>
<line x1="109.5" y1="499.9" x2="120.1" y2="489.2" stroke="#555" stroke-width="0.7"/>
<line x1="101.5" y1="481.2" x2="115.6" y2="495.3" stroke="#555" stroke-width="0.7"/>
<line x1="111.7" y1="465.3" x2="130.1" y2="483.7" stroke="#555" stroke-width="0.9"/>
<line x1="136.5" y1="477.3" x2="148.1" y2="488.9" stroke="#1b1b1b" stroke-width="2.2"/>
<line x1="159.1" y1="498.5" x2="171.1" y2="486.5" stroke="#1b1b1b" stroke-width="1.4"/>
<line x1="180.3" y1="519.7" x2="192.3" y2="507.7" stroke="#1b1b1b" stroke-width="1.4"/>
<line x1="159.1" y1="498.5" x2="180.3" y2="519.7" stroke="#1b1b1b" stroke-width="1.4"/>
<line x1="171.1" y1="486.5" x2="192.3" y2="507.7" stroke="#1b1b1b" stroke-width="1.4"/>
<line x1="169.7" y1="509.1" x2="181.7" y2="497.1" stroke="#1b1b1b" stroke-width="1.25"/>
<line x1="207.9" y1="449.7" x2="232.6" y2="425.0" stroke="#1b1b1b" stroke-width="1.4"/>
<line x1="229.1" y1="470.9" x2="253.9" y2="446.2" stroke="#1b1b1b" stroke-width="1.4"/>
<line x1="207.9" y1="449.7" x2="229.1" y2="470.9" stroke="#1b1b1b" stroke-width="1.4"/>
<line x1="232.6" y1="425.0" x2="253.9" y2="446.2" stroke="#1b1b1b" stroke-width="1.4"/>
<line x1="220.3" y1="437.3" x2="241.5" y2="458.6" stroke="#1b1b1b" stroke-width="1.25"/>
<line x1="218.5" y1="460.3" x2="243.2" y2="435.6" stroke="#1b1b1b" stroke-width="1.25"/>
<line x1="238.3" y1="419.3" x2="275.1" y2="382.5" stroke="#1b1b1b" stroke-width="1.4"/>
<line x1="259.5" y1="440.5" x2="296.3" y2="403.8" stroke="#1b1b1b" stroke-width="1.4"/>
<line x1="238.3" y1="419.3" x2="259.5" y2="440.5" stroke="#1b1b1b" stroke-width="1.4"/>
<line x1="275.1" y1="382.5" x2="296.3" y2="403.8" stroke="#1b1b1b" stroke-width="1.4"/>
<line x1="251.0" y1="406.6" x2="272.2" y2="427.8" stroke="#1b1b1b" stroke-width="1.25"/>
<line x1="261.6" y1="396.0" x2="282.8" y2="417.2" stroke="#1b1b1b" stroke-width="1.25"/>
<line x1="248.9" y1="429.9" x2="261.6" y2="417.2" stroke="#1b1b1b" stroke-width="1.25"/>
<line x1="272.2" y1="406.6" x2="285.7" y2="393.2" stroke="#1b1b1b" stroke-width="1.25"/>
<line x1="288.5" y1="369.1" x2="300.5" y2="357.1" stroke="#1b1b1b" stroke-width="1.4"/>
<line x1="309.7" y1="390.3" x2="321.7" y2="378.3" stroke="#1b1b1b" stroke-width="1.4"/>
<line x1="288.5" y1="369.1" x2="309.7" y2="390.3" stroke="#1b1b1b" stroke-width="1.4"/>
<line x1="300.5" y1="357.1" x2="321.7" y2="378.3" stroke="#1b1b1b" stroke-width="1.4"/>
<line x1="299.1" y1="379.7" x2="311.1" y2="367.7" stroke="#1b1b1b" stroke-width="1.25"/>
<line x1="183.1" y1="510.5" x2="186.3" y2="513.7" stroke="#1b1b1b" stroke-width="2.6"/>
<line x1="232.3" y1="461.4" x2="235.5" y2="464.6" stroke="#1b1b1b" stroke-width="2.6"/>
<line x1="244.3" y1="449.4" x2="247.5" y2="452.5" stroke="#1b1b1b" stroke-width="2.6"/>
<line x1="262.7" y1="431.0" x2="265.9" y2="434.2" stroke="#1b1b1b" stroke-width="2.6"/>
<line x1="286.4" y1="407.3" x2="289.6" y2="410.5" stroke="#1b1b1b" stroke-width="2.6"/>
<line x1="312.5" y1="381.1" x2="315.7" y2="384.3" stroke="#1b1b1b" stroke-width="2.6"/>
<line x1="388.2" y1="248.2" x2="397.0" y2="239.4" stroke="#1b1b1b" stroke-width="1.2"/>
<line x1="397.0" y1="239.4" x2="428.2" y2="270.5" stroke="#1b1b1b" stroke-width="1.2"/>
<line x1="389.9" y1="257.8" x2="404.7" y2="272.7" stroke="#1b1b1b" stroke-width="1.0"/>
<line x1="391.2" y1="256.5" x2="406.0" y2="271.4" stroke="#1b1b1b" stroke-width="1.0"/>
<line x1="380.1" y1="266.9" x2="393.5" y2="253.5" stroke="#1b1b1b" stroke-width="1.25"/>
<line x1="392.7" y1="285.2" x2="438.3" y2="239.6" stroke="#1b1b1b" stroke-width="1.4"/>
<line x1="399.9" y1="280.4" x2="411.9" y2="292.4" stroke="#1b1b1b" stroke-width="1.4"/>
<line x1="413.4" y1="284.8" x2="427.9" y2="270.3" stroke="#1b1b1b" stroke-width="1.4"/>
<line x1="396.7" y1="289.2" x2="405.9" y2="298.4" stroke="#1b1b1b" stroke-width="1.4"/>
<line x1="400.2" y1="304.1" x2="412.2" y2="292.0" stroke="#1b1b1b" stroke-width="1.4"/>
<line x1="391.0" y1="294.9" x2="400.2" y2="304.1" stroke="#1b1b1b" stroke-width="1.2"/>
<line x1="428.1" y1="249.9" x2="437.8" y2="259.6" stroke="#1b1b1b" stroke-width="1.2"/>
<line x1="438.3" y1="239.6" x2="448.1" y2="249.4" stroke="#1b1b1b" stroke-width="1.2"/>
<line x1="427.6" y1="269.9" x2="448.1" y2="249.4" stroke="#1b1b1b" stroke-width="1.4"/>
<line x1="417.8" y1="260.1" x2="437.8" y2="259.6" stroke="#555" stroke-width="0.8"/>
<line x1="428.1" y1="249.9" x2="427.6" y2="269.9" stroke="#555" stroke-width="0.8"/>
<line x1="428.1" y1="249.9" x2="448.1" y2="249.4" stroke="#555" stroke-width="0.8"/>
<line x1="438.3" y1="239.6" x2="437.8" y2="259.6" stroke="#555" stroke-width="0.8"/>
<line x1="148.1" y1="488.9" x2="302.8" y2="334.2" stroke="#1b1b1b" stroke-width="1.1"/>
<line x1="302.8" y1="334.2" x2="327.2" y2="358.6" stroke="#1b1b1b" stroke-width="1.3"/>
<line x1="327.2" y1="358.6" x2="396.7" y2="289.2" stroke="#1b1b1b" stroke-width="1.4"/>
<line x1="372.6" y1="265.2" x2="396.7" y2="289.2" stroke="#1b1b1b" stroke-width="1.2"/>
<line x1="335.2" y1="243.2" x2="355.0" y2="263.0" stroke="#1b1b1b" stroke-width="1.0"/>
<line x1="302.8" y1="334.2" x2="317.2" y2="319.8" stroke="#1b1b1b" stroke-width="0.9"/>
<line x1="291.3" y1="242.5" x2="334.3" y2="197.8" stroke="#1b1b1b" stroke-width="1.0"/>
<line x1="326.6" y1="200.0" x2="333.6" y2="200.0" stroke="#1b1b1b" stroke-width="0.9"/>
<line x1="321.6" y1="205.0" x2="328.6" y2="205.0" stroke="#1b1b1b" stroke-width="0.9"/>
<line x1="333.6" y1="200.0" x2="321.6" y2="205.0" stroke="#444" stroke-width="0.6"/>
<line x1="316.6" y1="210.0" x2="323.6" y2="210.0" stroke="#1b1b1b" stroke-width="0.9"/>
<line x1="328.6" y1="205.0" x2="316.6" y2="210.0" stroke="#444" stroke-width="0.6"/>
<line x1="311.6" y1="215.0" x2="318.6" y2="215.0" stroke="#1b1b1b" stroke-width="0.9"/>
<line x1="323.6" y1="210.0" x2="311.6" y2="215.0" stroke="#444" stroke-width="0.6"/>
<line x1="306.6" y1="220.0" x2="313.6" y2="220.0" stroke="#1b1b1b" stroke-width="0.9"/>
<line x1="318.6" y1="215.0" x2="306.6" y2="220.0" stroke="#444" stroke-width="0.6"/>
<line x1="301.6" y1="225.0" x2="308.6" y2="225.0" stroke="#1b1b1b" stroke-width="0.9"/>
<line x1="313.6" y1="220.0" x2="301.6" y2="225.0" stroke="#444" stroke-width="0.6"/>
<line x1="296.6" y1="230.0" x2="303.6" y2="230.0" stroke="#1b1b1b" stroke-width="0.9"/>
<line x1="308.6" y1="225.0" x2="296.6" y2="230.0" stroke="#444" stroke-width="0.6"/>
<line x1="291.6" y1="235.0" x2="298.6" y2="235.0" stroke="#1b1b1b" stroke-width="0.9"/>
<line x1="303.6" y1="230.0" x2="291.6" y2="235.0" stroke="#444" stroke-width="0.6"/>
<line x1="286.6" y1="240.0" x2="293.6" y2="240.0" stroke="#1b1b1b" stroke-width="0.9"/>
<line x1="298.6" y1="235.0" x2="286.6" y2="240.0" stroke="#444" stroke-width="0.6"/>
<line x1="292.9" y1="239.7" x2="381.5" y2="239.7" stroke="#1b1b1b" stroke-width="1.2"/>
<line x1="395.3" y1="226.2" x2="435.0" y2="226.2" stroke="#444" stroke-width="0.8"/>
<line x1="423.0" y1="218.0" x2="423.0" y2="226.2" stroke="#444" stroke-width="0.8"/>
<line x1="423.0" y1="218.0" x2="435.0" y2="218.0" stroke="#444" stroke-width="0.8"/>
<line x1="436.0" y1="200.4" x2="471.8" y2="200.4" stroke="#444" stroke-width="0.9"/>
<line x1="423.0" y1="225.7" x2="463.7" y2="225.7" stroke="#444" stroke-width="0.9"/>
<line x1="436.0" y1="200.4" x2="426.0" y2="209.0" stroke="#444" stroke-width="0.9"/>
<line x1="426.0" y1="209.0" x2="423.0" y2="210.0" stroke="#444" stroke-width="0.9"/>
<line x1="423.0" y1="210.0" x2="423.0" y2="225.7" stroke="#444" stroke-width="0.9"/>
<line x1="471.8" y1="200.4" x2="471.8" y2="207.8" stroke="#444" stroke-width="0.9"/>
<line x1="431.1" y1="208.2" x2="471.8" y2="208.2" stroke="#444" stroke-width="0.9"/>
<line x1="431.1" y1="217.5" x2="463.7" y2="217.5" stroke="#444" stroke-width="0.9"/>
<line x1="463.7" y1="217.5" x2="463.7" y2="225.7" stroke="#444" stroke-width="0.9"/>
<line x1="439.3" y1="200.4" x2="439.3" y2="207.8" stroke="#666" stroke-width="0.6"/>
<line x1="441.2" y1="200.4" x2="441.2" y2="207.8" stroke="#666" stroke-width="0.6"/>
<line x1="443.1" y1="200.4" x2="443.1" y2="207.8" stroke="#666" stroke-width="0.6"/>
<line x1="445.0" y1="200.4" x2="445.0" y2="207.8" stroke="#666" stroke-width="0.6"/>
<line x1="446.9" y1="200.4" x2="446.9" y2="207.8" stroke="#666" stroke-width="0.6"/>
<line x1="448.8" y1="200.4" x2="448.8" y2="207.8" stroke="#666" stroke-width="0.6"/>
<line x1="458.8" y1="200.4" x2="458.8" y2="207.8" stroke="#666" stroke-width="0.6"/>
<line x1="460.7" y1="200.4" x2="460.7" y2="207.8" stroke="#666" stroke-width="0.6"/>
<line x1="462.6" y1="200.4" x2="462.6" y2="207.8" stroke="#666" stroke-width="0.6"/>
<line x1="464.5" y1="200.4" x2="464.5" y2="207.8" stroke="#666" stroke-width="0.6"/>
<line x1="466.4" y1="200.4" x2="466.4" y2="207.8" stroke="#666" stroke-width="0.6"/>
<line x1="468.3" y1="200.4" x2="468.3" y2="207.8" stroke="#666" stroke-width="0.6"/>
<line x1="470.2" y1="200.4" x2="470.2" y2="207.8" stroke="#666" stroke-width="0.6"/>
<line x1="431.1" y1="208.6" x2="431.1" y2="217.5" stroke="#666" stroke-width="0.6"/>
<line x1="433.0" y1="208.6" x2="433.0" y2="217.5" stroke="#666" stroke-width="0.6"/>
<line x1="434.9" y1="208.6" x2="434.9" y2="217.5" stroke="#666" stroke-width="0.6"/>
<line x1="436.8" y1="208.6" x2="436.8" y2="217.5" stroke="#666" stroke-width="0.6"/>
<line x1="438.7" y1="208.6" x2="438.7" y2="217.5" stroke="#666" stroke-width="0.6"/>
<line x1="440.6" y1="208.6" x2="440.6" y2="217.5" stroke="#666" stroke-width="0.6"/>
<line x1="442.5" y1="208.6" x2="442.5" y2="217.5" stroke="#666" stroke-width="0.6"/>
<line x1="450.7" y1="208.6" x2="450.7" y2="217.5" stroke="#666" stroke-width="0.6"/>
<line x1="452.6" y1="208.6" x2="452.6" y2="217.5" stroke="#666" stroke-width="0.6"/>
<line x1="454.5" y1="208.6" x2="454.5" y2="217.5" stroke="#666" stroke-width="0.6"/>
<line x1="456.4" y1="208.6" x2="456.4" y2="217.5" stroke="#666" stroke-width="0.6"/>
<line x1="458.3" y1="208.6" x2="458.3" y2="217.5" stroke="#666" stroke-width="0.6"/>
<line x1="460.2" y1="208.6" x2="460.2" y2="217.5" stroke="#666" stroke-width="0.6"/>
<line x1="462.1" y1="208.6" x2="462.1" y2="217.5" stroke="#666" stroke-width="0.6"/>
<line x1="410.0" y1="209.4" x2="419.8" y2="200.4" stroke="#1b1b1b" stroke-width="1.0"/>
<line x1="436.0" y1="240.3" x2="507.6" y2="240.3" stroke="#1b1b1b" stroke-width="1.4"/>
<line x1="503.0" y1="195.0" x2="551.5" y2="195.0" stroke="#444" stroke-width="0.9"/>
<line x1="503.0" y1="200.0" x2="551.5" y2="200.0" stroke="#444" stroke-width="0.9"/>
<line x1="623.0" y1="80.2" x2="638.6" y2="96.8" stroke="#777" stroke-width="0.8"/>
<line x1="638.6" y1="96.8" x2="648.4" y2="96.8" stroke="#777" stroke-width="0.8"/>
<line x1="648.4" y1="96.8" x2="660.0" y2="85.0" stroke="#777" stroke-width="0.8"/>
<line x1="623.0" y1="80.2" x2="612.0" y2="91.0" stroke="#777" stroke-width="0.8"/>
<line x1="543.0" y1="137.0" x2="556.0" y2="124.0" stroke="#34424a" stroke-width="2.0"/>
<line x1="532.0" y1="137.2" x2="541.2" y2="137.2" stroke="#1b1b1b" stroke-width="1.0"/>
<line x1="532.0" y1="143.5" x2="541.2" y2="143.5" stroke="#1b1b1b" stroke-width="1.0"/>
<line x1="536.6" y1="137.2" x2="536.6" y2="150.0" stroke="#1b1b1b" stroke-width="1.0"/>
<line x1="541.2" y1="137.2" x2="541.2" y2="142.0" stroke="#1b1b1b" stroke-width="1.0"/>
<line x1="679.2" y1="66.5" x2="679.2" y2="96.4" stroke="#333" stroke-width="1.0"/>
<line x1="682.8" y1="64.0" x2="682.8" y2="96.4" stroke="#1b2a33" stroke-width="1.6"/>
<line x1="679.2" y1="66.5" x2="682.8" y2="66.5" stroke="#333" stroke-width="1.0"/>
<line x1="671.0" y1="84.5" x2="678.5" y2="84.5" stroke="#888" stroke-width="0.8"/>
<line x1="671.0" y1="86.8" x2="678.5" y2="86.8" stroke="#888" stroke-width="0.8"/>
<line x1="671.0" y1="89.1" x2="678.5" y2="89.1" stroke="#888" stroke-width="0.8"/>
<line x1="671.0" y1="91.4" x2="678.5" y2="91.4" stroke="#888" stroke-width="0.8"/>
<line x1="671.0" y1="93.7" x2="678.5" y2="93.7" stroke="#888" stroke-width="0.8"/>
<line x1="670.5" y1="82.0" x2="670.5" y2="96.4" stroke="#666" stroke-width="0.9"/>
<line x1="656.0" y1="96.0" x2="664.0" y2="88.0" stroke="#555" stroke-width="0.8"/>
<line x1="658.6" y1="96.0" x2="666.6" y2="88.0" stroke="#555" stroke-width="0.8"/>
<line x1="661.2" y1="96.0" x2="669.2" y2="88.0" stroke="#555" stroke-width="0.8"/>
<line x1="663.8" y1="96.0" x2="671.8" y2="88.0" stroke="#555" stroke-width="0.8"/>
<line x1="666.4" y1="96.0" x2="674.4" y2="88.0" stroke="#555" stroke-width="0.8"/>
<line x1="657.0" y1="96.4" x2="671.0" y2="96.4" stroke="#666" stroke-width="0.8"/>
<rect x="310.9" y="21.6" width="3.2" height="3.2" fill="#fff" stroke="#222" stroke-width="1.0"/>
<rect x="332.9" y="21.6" width="3.2" height="3.2" fill="#fff" stroke="#222" stroke-width="1.0"/>
<rect x="376.0" y="21.6" width="3.2" height="3.2" fill="#fff" stroke="#222" stroke-width="1.0"/>
<rect x="418.6" y="21.6" width="3.2" height="3.2" fill="#fff" stroke="#222" stroke-width="1.0"/>
<rect x="462.4" y="21.6" width="3.2" height="3.2" fill="#fff" stroke="#222" stroke-width="1.0"/>
<rect x="505.4" y="21.6" width="3.2" height="3.2" fill="#fff" stroke="#222" stroke-width="1.0"/>
<rect x="548.4" y="21.6" width="3.2" height="3.2" fill="#fff" stroke="#222" stroke-width="1.0"/>
<rect x="764.0" y="21.6" width="3.2" height="3.2" fill="#fff" stroke="#222" stroke-width="1.0"/>
<rect x="806.7" y="21.6" width="3.2" height="3.2" fill="#fff" stroke="#222" stroke-width="1.0"/>
<rect x="849.4" y="21.6" width="3.2" height="3.2" fill="#fff" stroke="#222" stroke-width="1.0"/>
<rect x="892.1" y="21.6" width="3.2" height="3.2" fill="#fff" stroke="#222" stroke-width="1.0"/>
<rect x="332.9" y="63.9" width="3.2" height="3.2" fill="#fff" stroke="#222" stroke-width="1.0"/>
<rect x="332.9" y="109.4" width="3.2" height="3.2" fill="#fff" stroke="#222" stroke-width="1.0"/>
<rect x="418.9" y="109.4" width="3.2" height="3.2" fill="#fff" stroke="#222" stroke-width="1.0"/>
<rect x="311.1" y="150.8" width="3.2" height="3.2" fill="#fff" stroke="#222" stroke-width="1.0"/>
<rect x="332.9" y="150.8" width="3.2" height="3.2" fill="#fff" stroke="#222" stroke-width="1.0"/>
<rect x="418.9" y="150.8" width="3.2" height="3.2" fill="#fff" stroke="#222" stroke-width="1.0"/>
<rect x="591.4" y="150.8" width="3.2" height="3.2" fill="#fff" stroke="#222" stroke-width="1.0"/>
<rect x="634.7" y="150.4" width="3.2" height="3.2" fill="#fff" stroke="#222" stroke-width="1.0"/>
<rect x="893.1" y="65.0" width="3.2" height="3.2" fill="#fff" stroke="#222" stroke-width="1.0"/>
<rect x="806.7" y="108.0" width="3.2" height="3.2" fill="#fff" stroke="#222" stroke-width="1.0"/>
<rect x="850.4" y="108.0" width="3.2" height="3.2" fill="#fff" stroke="#222" stroke-width="1.0"/>
<rect x="892.4" y="108.0" width="3.2" height="3.2" fill="#fff" stroke="#222" stroke-width="1.0"/>
<rect x="920.9" y="130.0" width="3.2" height="3.2" fill="#fff" stroke="#222" stroke-width="1.0"/>
<rect x="289.9" y="43.0" width="3.2" height="3.2" fill="#fff" stroke="#222" stroke-width="1.0"/>
<rect x="590.9" y="21.2" width="3.2" height="3.2" fill="#fff" stroke="#222" stroke-width="1.0"/>
<rect x="181.6" y="514.0" width="3" height="3" fill="#222"/>
<rect x="150.8" y="483.2" width="3" height="3" fill="#222"/>
<rect x="212.2" y="483.4" width="3" height="3" fill="#222"/>
<rect x="181.4" y="452.6" width="3" height="3" fill="#222"/>
<rect x="242.7" y="452.9" width="3" height="3" fill="#222"/>
<rect x="211.9" y="422.1" width="3" height="3" fill="#222"/>
<rect x="273.3" y="422.3" width="3" height="3" fill="#222"/>
<rect x="242.5" y="391.5" width="3" height="3" fill="#222"/>
<rect x="303.8" y="391.8" width="3" height="3" fill="#222"/>
<rect x="273.0" y="361.0" width="3" height="3" fill="#222"/>
<rect x="334.4" y="361.2" width="3" height="3" fill="#222"/>
<rect x="364.9" y="330.7" width="3" height="3" fill="#222"/>
<rect x="395.5" y="300.2" width="3" height="3" fill="#222"/>
<path d="M198.6,540.0 A6.5,6.5 0 0 1 198.6,530.8" fill="none" stroke="#aaa" stroke-width="0.8"/>
<path d="M229.2,509.5 A6.5,6.5 0 0 1 229.2,500.3" fill="none" stroke="#aaa" stroke-width="0.8"/>
<path d="M259.7,478.9 A6.5,6.5 0 0 1 259.7,469.7" fill="none" stroke="#aaa" stroke-width="0.8"/>
<path d="M290.3,448.4 A6.5,6.5 0 0 1 290.3,439.2" fill="none" stroke="#aaa" stroke-width="0.8"/>
<path d="M320.8,417.8 A6.5,6.5 0 0 1 320.8,408.6" fill="none" stroke="#aaa" stroke-width="0.8"/>
<path d="M351.4,387.3 A6.5,6.5 0 0 1 351.4,378.1" fill="none" stroke="#aaa" stroke-width="0.8"/>
<path d="M381.9,356.7 A6.5,6.5 0 0 1 381.9,347.5" fill="none" stroke="#aaa" stroke-width="0.8"/>
<path d="M412.5,326.2 A6.5,6.5 0 0 1 412.5,317.0" fill="none" stroke="#aaa" stroke-width="0.8"/>
<path d="M443.0,295.6 A6.5,6.5 0 0 1 443.0,286.4" fill="none" stroke="#aaa" stroke-width="0.8"/>
<path d="M473.5,265.1 A6.5,6.5 0 0 1 473.5,255.9" fill="none" stroke="#aaa" stroke-width="0.8"/>
</g>
<path fill="none" stroke="#1b1b1b" stroke-width="1.8" d="M312,22 H681.7 L700.7,43.3 L722.3,22 H917 A22,22 0 0 1 939,44 V175 A22,22 0 0 1 917,197 H552"/>
<path fill="none" stroke="#1b1b1b" stroke-width="1.8" d="M334,196 H313 A23,23 0 0 1 290,173 V108.5 M290,91 V45 A23,23 0 0 1 312,22"/>
<path fill="none" stroke="#1b1b1b" stroke-width="1.3" d="M334.3,193.3 H422.4 M334.3,199.5 H422.4 M334.3,193.3 V199.5 M357.7,193.3 V199.5 M379,193.3 V199.5 M400.4,193.3 V199.5 M422.4,193.3 V199.5"/>
<path fill="none" stroke="#555" stroke-width="0.9" d="M422.4,194.3 H484 M422.4,199.6 H484"/>
<path fill="none" stroke="#1b1b1b" stroke-width="1.8" d="M681.7,22 L606.6,96.4 M700.7,43.3 L682.3,61.7 M574.1,109.1 L484,199 M591.5,109 L505.7,194.8"/>
<path fill="none" stroke="#1b1b1b" stroke-width="1.8" d="M270.5,243 L75.3,438.2 A22,22 0 0 0 75.3,469.3 L108.6,502.6 H131.5 L121.8,515.8 L167.3,561.3 A22.6,22.6 0 0 0 199.3,561.3 L519,242"/>
<path fill="none" stroke="#1b1b1b" stroke-width="1.4" d="M271.3,243 H336 M283.5,243 L330.3,196.2 M380,239.5 L419.7,200.2 M295,239.5 H380 M507.6,240.8 L519,242"/>
<path fill="none" stroke="#1b1b1b" stroke-width="1.2" d="M555.5,196.6 L508,242.3 M552,196.6 L505,241"/>

<g fill="#2a2a2a" stroke="#2a2a2a" stroke-width="0.25" font-size="12.3" style="filter:grayscale(1)">
<text x="65" y="127.9" textLength="60.4" lengthAdjust="spacingAndGlyphs">Suite 310B</text>
<text x="66.5" y="143.7" textLength="56.9" lengthAdjust="spacingAndGlyphs">17,086RSF</text>
<text x="606.9" y="362.5" textLength="63" lengthAdjust="spacingAndGlyphs">Suite 300A</text>
<text x="608.5" y="378.3" textLength="59.4" lengthAdjust="spacingAndGlyphs">16,180RSF</text>
</g>
<g fill="#111" font-size="16.9" style="filter:grayscale(1)">
<text x="446.8" y="515">One Research Drive -</text>
<text x="446.8" y="534.4">Overall - 3rd Floor Plan</text>
</g>
<ellipse cx="534.5" cy="218.5" rx="4.5" ry="3" transform="rotate(-45 534.5 218.5)" fill="none" stroke="#222" stroke-width="1"/>
<line x1="131.3" y1="133.9" x2="334.7" y2="166.3" stroke="#000" stroke-width="3.4"/>
<line x1="391.3" y1="325.2" x2="594.2" y2="357.8" stroke="#000" stroke-width="3.5"/>

</svg>
</body></html>
